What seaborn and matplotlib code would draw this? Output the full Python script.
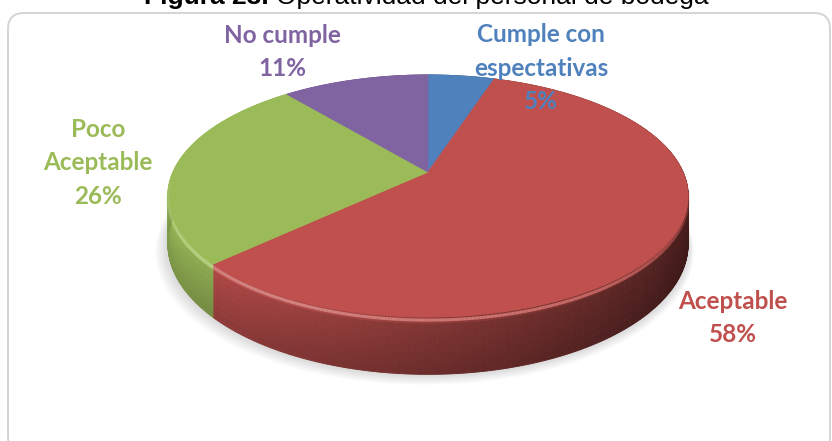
import numpy as np
import matplotlib
matplotlib.use("Agg")
import matplotlib.pyplot as plt
import seaborn as sns
from matplotlib.patches import Polygon, FancyBboxPatch
from matplotlib.collections import PolyCollection

# Chart data
categories = ["Cumple con\nespectativas", "Aceptable", "Poco\nAceptable", "No cumple"]
values = [5, 58, 26, 11]
hex_colors = ["#4F81BD", "#C0504D", "#9BBB59", "#8064A2"]
title_bold = "Figura 23."
title_rest = "Operatividad del personal de bodega"

sns.set_theme(style="white")
palette = sns.color_palette(hex_colors)
plt.rcParams["font.family"] = ["Lato", "DejaVu Sans"]

W, H = 832, 441
fig = plt.figure(figsize=(W / 100, H / 100), dpi=100)
ax = fig.add_axes([0, 0, 1, 1])
ax.set_xlim(0, W)
ax.set_ylim(H, 0)
ax.set_aspect("auto")
ax.axis("off")

# Perspective view of a tilted disc (pixel space)
CX, CY = 428.0, 172.0      # projected pie centre
R, RB = 255.0, 116.3       # horizontal / vertical radius factors
K = 0.198                  # perspective strength
DEPTH = 46.0               # thickness of the disc


def proj(theta_deg, drop=0.0):
    t = np.radians(theta_deg)
    x, y = np.cos(t), np.sin(t)
    d = 1.0 + K * y
    return CX + R * x / d, CY + (-RB * y + drop) / d


def shade(rgb, f):
    return tuple(np.clip(np.array(rgb) * f, 0, 1))


fracs = np.array(values, dtype=float) / np.sum(values)
starts = 90 - 360 * np.concatenate([[0], np.cumsum(fracs)[:-1]])
ends = starts - 360 * fracs

# Box around the chart
box = FancyBboxPatch((8, 13), 822, 440, boxstyle="round,pad=0,rounding_size=16",
                     ec="#D4D4D4", fc="white", lw=1.4, zorder=0)
ax.add_patch(box)

# Soft shadow under the disc
full = np.linspace(0, 360, 361)
for i, off in enumerate(np.linspace(14, 0, 14)):
    bx, by = proj(full, DEPTH + off * 0.6)
    bx = CX + (bx - CX) * (1 + off * 0.0025) - off * 0.25
    ax.add_patch(Polygon(np.column_stack([bx, by]), closed=True, fc="#a0a0a0",
                         ec="none", alpha=0.03, zorder=1))

# Side walls, shaded with light coming from the left
for col, a0, a1 in zip(palette, starts, ends):
    n = max(4, int(abs(a1 - a0) * 2))
    ts = np.linspace(a0, a1, n + 1)
    rows = 8
    quads, cols = [], []
    for j in range(n):
        tm = 0.5 * (ts[j] + ts[j + 1])
        diff = np.radians(tm - 180)
        f_ang = 0.61 + 0.28 * np.cos(diff)
        for r in range(rows):
            d0 = DEPTH * r / rows
            d1 = DEPTH * (r + 1) / rows
            x0, y0 = proj(ts[j], d0)
            x1, y1 = proj(ts[j + 1], d0)
            x2, y2 = proj(ts[j + 1], d1)
            x3, y3 = proj(ts[j], d1)
            quads.append([(x0, y0), (x1, y1), (x2, y2), (x3, y3)])
            fv = 1.12 - 0.2 * (r / (rows - 1)) if r > 0 else 1.25
            cols.append(shade(col, f_ang * fv))
    ax.add_collection(PolyCollection(quads, facecolors=cols, edgecolors=cols,
                                     linewidths=0.6, zorder=2))

# Top faces
for col, a0, a1 in zip(palette, starts, ends):
    ts = np.linspace(a0, a1, max(8, int(abs(a1 - a0) * 2)))
    px, py = proj(ts)
    pts = np.vstack([[CX, CY], np.column_stack([px, py])])
    ax.add_patch(Polygon(pts, closed=True, fc=col, ec=col, lw=0.6, zorder=3))

# Bevel highlight along the front rim
for col, a0, a1 in zip(palette, starts, ends):
    ts = np.linspace(a0, a1, max(8, int(abs(a1 - a0) * 2)))
    for j in range(len(ts) - 1):
        tm = 0.5 * (ts[j] + ts[j + 1])
        s = -np.sin(np.radians(tm))
        if s <= 0:
            continue
        cfront = np.cos(np.radians(tm - 200))
        light = 0.5 + 0.5 * cfront
        xs, ys = proj(np.array([ts[j], ts[j + 1]]), 2.5)
        c = tuple(np.clip(np.array(col) + (1 - np.array(col)) * 0.35 * light, 0, 1))
        ax.plot(xs, ys, color=c, lw=2.2, alpha=min(1, s * 1.2), zorder=4,
                solid_capstyle="butt")

# Data labels
label_pos = [(541, 68), (733, 318), (98, 163), (282, 52)]
for cat, v, col, (lx, ly) in zip(categories, values, palette, label_pos):
    ax.text(lx, ly, f"{cat}\n{v}%", color=col, fontsize=17.5, fontweight="bold",
            ha="center", va="center", linespacing=1.55, zorder=5)

# Title (partly above the canvas)
title_font = ["Liberation Sans", "DejaVu Sans"]
ax.text(144, 4, title_bold, fontsize=19, fontweight="bold", ha="left",
        va="baseline", family=title_font, color="black")
ax.text(276, 4, title_rest, fontsize=19, ha="left", va="baseline",
        family=title_font, color="black")

fig.savefig("out.png", dpi=100)
